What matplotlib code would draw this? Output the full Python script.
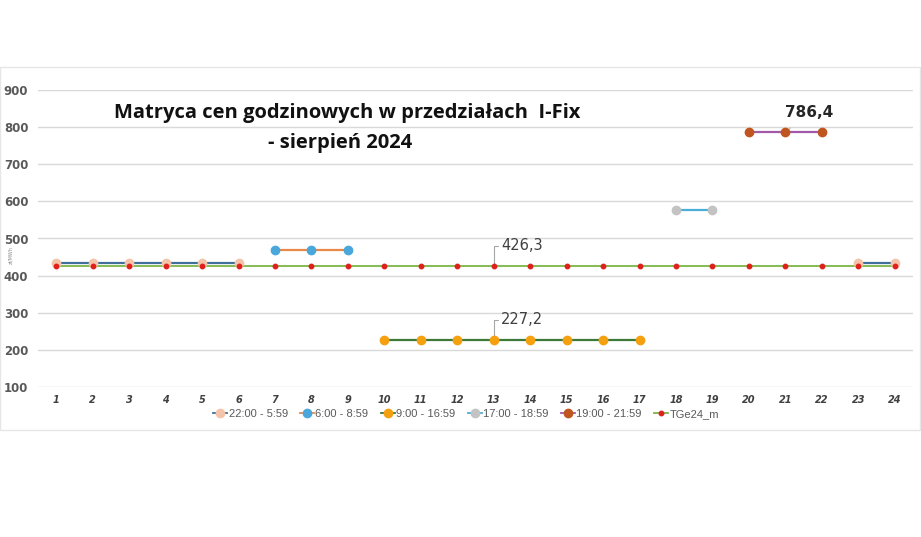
import numpy as np
import matplotlib
matplotlib.use("Agg")
import matplotlib.pyplot as plt
from matplotlib.lines import Line2D
from matplotlib.patches import Rectangle

hours = list(range(1, 25))
nan = np.nan
s_night = [434]*6 + [nan]*16 + [434]*2
s_morning = [nan]*6 + [469]*3 + [nan]*15
s_day = [nan]*9 + [227.2]*8 + [nan]*7
s_evening1 = [nan]*17 + [577]*2 + [nan]*5
s_evening2 = [nan]*19 + [786.4]*3 + [nan]*2
tge = [426.3]*24

series = [
    ("22:00 - 5:59", s_night, "#3f6f9a", "#f4c4aa", 6),
    ("6:00 - 8:59", s_morning, "#e8894a", "#4aa7dc", 6),
    ("9:00 - 16:59", s_day, "#3d7a3a", "#f5a00f", 6),
    ("17:00 - 18:59", s_evening1, "#4aaed8", "#c3c3c3", 6),
    ("19:00 - 21:59", s_evening2, "#a25aa8", "#c0561f", 6),
    ("TGe24_m", tge, "#7ab648", "#e0201a", 3.2),
]

fig = plt.figure(figsize=(9.21, 5.37), dpi=100)
W, H = 921, 537
fig.patches.append(Rectangle((0, (H-430)/H), 920/W, (430-67)/H, transform=fig.transFigure,
                             fill=False, edgecolor="#e6e6e6", lw=1))
ax = fig.add_axes([38/W, (H-387)/H, 875/W, (387-90)/H])
ax.set_xlim(0.5, 24.5)
ax.set_ylim(100, 900)
ax.set_yticks(range(100, 901, 100))
ax.grid(axis="y", color="#d9d9d9", lw=1)
ax.set_axisbelow(True)
for s in ax.spines.values():
    s.set_visible(False)
ax.tick_params(length=0)
ax.set_xticks(hours)
ax.set_xticklabels([str(h) for h in hours], fontsize=7, fontweight="bold", style="italic", color="#404040")
for lab in ax.get_yticklabels():
    lab.set_fontsize(8.5)
    lab.set_fontweight("bold")
    lab.set_color("#595959")
ax.tick_params(axis="y", pad=7)
ax.tick_params(axis="x", pad=6)

handles = []
for name, vals, lc, mc, ms in series:
    v = np.array(vals, dtype=float)
    tg = name == "TGe24_m"
    ax.plot(hours, v, color=lc, lw=1.3 if tg else 1.6, zorder=3 if tg else 4)
    ax.plot(hours, v, ls="none", marker="o", ms=ms, color=mc, mec=mc, zorder=6 if tg else 5)
    handles.append(Line2D([0], [0], color=lc, lw=1.3, marker="o", ms=ms, mfc=mc, mec=mc))

leg = fig.legend(handles, [s[0] for s in series], loc="center", bbox_to_anchor=(466/W, (H-414)/H),
                 ncol=6, frameon=False, handlelength=1.3, handletextpad=0.1,
                 columnspacing=1.1, labelcolor="#595959", prop={"family": "Liberation Sans", "size": 8})

ax.annotate("426,3", xy=(13, 426.3), xytext=(13.2, 480), fontsize=10.5, color="#404040",
            ha="left", va="center",
            arrowprops=dict(arrowstyle="-", color="#a6a6a6", lw=0.8, shrinkA=0, shrinkB=0,
                            connectionstyle="angle,angleA=0,angleB=90,rad=0"))
ax.annotate("227,2", xy=(13, 227.2), xytext=(13.2, 281), fontsize=10.5, color="#404040",
            ha="left", va="center",
            arrowprops=dict(arrowstyle="-", color="#a6a6a6", lw=0.8, shrinkA=0, shrinkB=0,
                            connectionstyle="angle,angleA=0,angleB=90,rad=0"))
ax.annotate("786,4", xy=(21, 786.4), xytext=(21.65, 840), fontsize=11, fontweight="bold",
            color="#262626", ha="center", va="center",
            arrowprops=dict(arrowstyle="-", color="#bfbfbf", lw=0.8, shrinkA=6, shrinkB=0))

fig.text(347/W, 1-113/H, "Matryca cen godzinowych w przedziałach  I-Fix", fontsize=14.5,
         fontweight="bold", ha="center", va="center", family="Open Sans", color="#111111")
fig.text(340/W, 1-143/H, "- sierpień 2024", fontsize=14.5,
         fontweight="bold", ha="center", va="center", family="Open Sans", color="#111111")
fig.text(11/W, 1-255/H, "zł/MWh", fontsize=3.5, rotation=90, ha="center", va="center", color="#8c8c8c")

fig.savefig("out.png", dpi=100, facecolor="white")
